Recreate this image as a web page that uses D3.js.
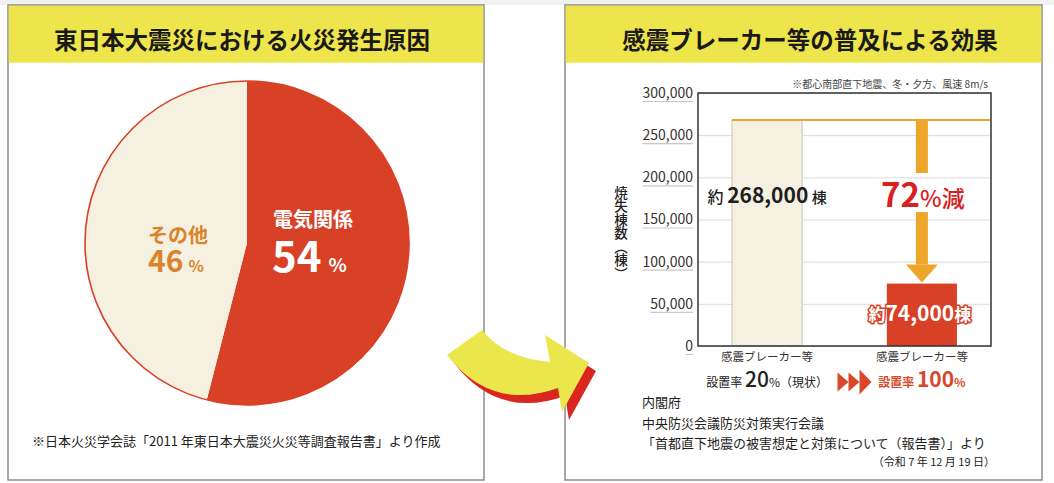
<!DOCTYPE html>
<html lang="ja">
<head>
<meta charset="utf-8">
<script src="https://cdn.jsdelivr.net/npm/d3@7"></script>
<style>
  html, body { margin: 0; padding: 0; background: #fff; }
  svg { display: block; font-family: "Noto Sans CJK JP", "Noto Sans", sans-serif; }
</style>
</head>
<body>
<div id="chart"></div>
<script>
// data
const pieLabels = ["電気関係", "その他"];
const pieValues = [54, 46];
const barKeys = ["current", "full"];
const barLabels = ["感震ブレーカー等", "感震ブレーカー等"];
const barValues = [268000, 74000];
const rateValues = [20, 100];
const rateNotes = ["（現状）", ""];
const yTicks = [0, 50000, 100000, 150000, 200000, 250000, 300000];
const reductionPct = 72;

const W = 1054, H = 483;
const red = "#d94126", cream = "#f6f0e1", yellow = "#ede54b";
const orange = "#eea62a", textRed = "#d8201e", other = "#d9842c";

const svg = d3.select("#chart").append("svg")
  .attr("width", W)
  .attr("height", H);

svg.append("rect").attr("x", 0).attr("y", 0).attr("width", W).attr("height", 5).attr("fill", "#f1f1f1");

// panels with yellow headers
const panels = [
  { x: 8, y: 5, w: 476, h: 475, title: "東日本大震災における火災発生原因", tx: 242 },
  { x: 565, y: 5, w: 477, h: 475, title: "感震ブレーカー等の普及による効果", tx: 810 }
];
panels.forEach(function (p) {
  svg.append("rect")
    .attr("x", p.x).attr("y", p.y).attr("width", p.w).attr("height", p.h)
    .attr("fill", "#fff").attr("stroke", "#8c8c8c").attr("stroke-width", 1.5);
  svg.append("rect")
    .attr("x", p.x + 0.75).attr("y", p.y + 0.75).attr("width", p.w - 1.5).attr("height", 57)
    .attr("fill", yellow);
  svg.append("text")
    .attr("x", p.tx).attr("y", 49)
    .attr("text-anchor", "middle")
    .attr("font-size", 23.5).attr("font-weight", 700).attr("fill", "#1a1a1a")
    .text(p.title);
});

// ---- pie ----
const cx = 247, cy = 243, r = 162;
const pie = d3.pie().sort(null).value(function (d) { return d; });
const arc = d3.arc().innerRadius(0).outerRadius(r);
const pg = svg.append("g").attr("transform", "translate(" + cx + "," + cy + ")");
pg.selectAll("path.slice")
  .data(pie(pieValues))
  .enter().append("path")
  .attr("class", "slice")
  .attr("d", arc)
  .attr("fill", function (d, i) { return i === 0 ? red : cream; });
pg.append("circle").attr("r", r).attr("fill", "none").attr("stroke", red).attr("stroke-width", 1.6);

// red slice label (one text, two lines)
const l0 = pg.append("text").attr("fill", "#fff").attr("font-weight", 700);
l0.append("tspan").attr("x", 26).attr("y", -16).attr("font-size", 20).text(pieLabels[0]);
l0.append("tspan").attr("x", 25).attr("y", 29).attr("font-size", 42).text(pieValues[0]);
l0.append("tspan").attr("font-size", 19).attr("dx", 7).text("%");

// other slice label
const l1 = pg.append("text").attr("fill", other).attr("font-weight", 700);
l1.append("tspan").attr("x", -99).attr("y", 0).attr("font-size", 20).text(pieLabels[1]);
l1.append("tspan").attr("x", -99).attr("y", 29).attr("font-size", 30).text(pieValues[1]);
l1.append("tspan").attr("font-size", 16).attr("dx", 5).text("%");

svg.append("text")
  .attr("x", 32).attr("y", 446)
  .attr("font-size", 13).attr("fill", "#222")
  .text("※日本火災学会誌「2011 年東日本大震災火災等調査報告書」より作成");

// ---- curved arrow between panels ----
const arrowPath = "M447,355 L482,330 Q504,358 550,362 L545,335 L589,363 L562,412 L558,388 Q491,412 447,355 Z";
svg.append("path").attr("d", arrowPath).attr("fill", "#d9261f").attr("transform", "translate(7,8)");
svg.append("path").attr("d", arrowPath).attr("fill", "#ece64d");

// ---- bar chart ----
const plot = { left: 698, right: 991, top: 93, bottom: 346 };
const x = d3.scaleBand()
  .domain(barKeys)
  .range([plot.left, plot.right])
  .paddingInner(0.547)
  .paddingOuter(0.22);
const y = d3.scaleLinear()
  .domain([0, 300000])
  .range([plot.bottom, plot.top]);

// gridlines
svg.append("g")
  .attr("transform", "translate(" + plot.left + ",0)")
  .call(d3.axisLeft(y).tickValues(yTicks).tickSize(-(plot.right - plot.left)).tickFormat(""))
  .call(function (g) { g.select(".domain").remove(); })
  .selectAll("line").attr("stroke", "#dcdcdc").attr("stroke-width", 1);

// bars
svg.selectAll("rect.bar")
  .data(barValues)
  .enter().append("rect")
  .attr("class", "bar")
  .attr("x", function (d, i) { return x(barKeys[i]); })
  .attr("y", function (d) { return y(d); })
  .attr("width", x.bandwidth())
  .attr("height", function (d) { return plot.bottom - y(d); })
  .attr("fill", function (d, i) { return i === 0 ? cream : red; })
  .attr("stroke", function (d, i) { return i === 0 ? "#d9d6cc" : "none"; })
  .attr("stroke-width", 1.5);

// plot frame
svg.append("rect")
  .attr("x", plot.left).attr("y", plot.top)
  .attr("width", plot.right - plot.left).attr("height", plot.bottom - plot.top)
  .attr("fill", "none").attr("stroke", "#333").attr("stroke-width", 1.5);

// orange reference line at the current value
svg.append("line")
  .attr("x1", x(barKeys[0])).attr("x2", plot.right - 0.75)
  .attr("y1", y(barValues[0])).attr("y2", y(barValues[0]))
  .attr("stroke", orange).attr("stroke-width", 2);

// y axis labels with underline
const yAxis = svg.append("g")
  .attr("transform", "translate(" + (plot.left - 5) + ",0)")
  .call(d3.axisLeft(y).tickValues(yTicks).tickSize(0).tickPadding(0).tickFormat(d3.format(",")));
yAxis.select(".domain").remove();
yAxis.selectAll("text")
  .attr("font-family", "'Noto Sans CJK JP', sans-serif")
  .attr("font-size", 14).attr("fill", "#333");
yAxis.selectAll(".tick").each(function () {
  const t = d3.select(this);
  const w = t.select("text").node().getComputedTextLength();
  t.append("line")
    .attr("x1", -w).attr("x2", 0).attr("y1", 8).attr("y2", 8)
    .attr("stroke", "#c8c8c8").attr("stroke-width", 1.2);
});

// y title (vertical writing)
svg.append("text")
  .attr("x", 621).attr("y", 186)
  .attr("font-size", 13.5).attr("font-weight", 500).attr("fill", "#222")
  .style("writing-mode", "vertical-rl")
  .style("text-orientation", "upright")
  .text("焼失棟数（棟）");

// x axis labels
const xAxis = svg.append("g")
  .attr("transform", "translate(0," + plot.bottom + ")")
  .call(d3.axisBottom(x).tickSize(0).tickPadding(7).tickFormat(function (d, i) { return barLabels[i]; }));
xAxis.select(".domain").remove();
xAxis.selectAll("text")
  .attr("font-family", "'Noto Sans CJK JP', sans-serif")
  .attr("font-size", 11.5).attr("fill", "#333");

// rate labels under the axis
const rateColors = ["#222", "#d9482b"];
rateValues.forEach(function (v, i) {
  const t = svg.append("text")
    .attr("x", x(barKeys[i]) + x.bandwidth() / 2)
    .attr("y", 387)
    .attr("text-anchor", "middle")
    .attr("fill", rateColors[i])
    .attr("font-weight", i === 1 ? 700 : 400);
  t.append("tspan").attr("font-size", 12).text("設置率 ");
  t.append("tspan").attr("font-size", 21).attr("font-weight", i === 1 ? 700 : 500).text(v);
  t.append("tspan").attr("font-size", 12).text("%");
  if (rateNotes[i]) t.append("tspan").attr("font-size", 12).text(rateNotes[i]);
});

// triple arrow between rates
const triX = (x(barKeys[0]) + x(barKeys[1]) + x.bandwidth()) / 2 + 10;
const tris = [[-17, 11, 19], [-6, 11, 19], [5, 12, 25]];
tris.forEach(function (t) {
  const x0 = triX + t[0];
  svg.append("path")
    .attr("d", "M" + x0 + "," + (382 - t[2] / 2) + " L" + (x0 + t[1]) + ",382 L" + x0 + "," + (382 + t[2] / 2) + " Z")
    .attr("fill", "#d9482b");
});

// value label on the first bar
const cx0 = x(barKeys[0]) + x.bandwidth() / 2;
const lab0 = svg.append("text")
  .attr("x", cx0).attr("y", y(barValues[0]) + 83)
  .attr("text-anchor", "middle").attr("fill", "#1e1e1e");
lab0.append("tspan").attr("font-size", 16).attr("font-weight", 500).text("約 ");
lab0.append("tspan").attr("font-size", 21).attr("font-weight", 700).text(d3.format(",")(barValues[0]));
lab0.append("tspan").attr("font-size", 15).attr("font-weight", 500).text(" 棟");

// reduction arrow
const cx1 = x(barKeys[1]) + x.bandwidth() / 2;
const headTop = y(barValues[1]) - 19;
svg.append("rect")
  .attr("x", cx1 - 6).attr("width", 12)
  .attr("y", y(barValues[0]) + 1).attr("height", 52)
  .attr("fill", orange);
svg.append("rect")
  .attr("x", cx1 - 6).attr("width", 12)
  .attr("y", 212).attr("height", headTop - 212)
  .attr("fill", orange);
svg.append("path")
  .attr("d", "M" + (cx1 - 16) + "," + headTop + " L" + (cx1 + 16) + "," + headTop + " L" + cx1 + "," + (y(barValues[1]) - 1) + " Z")
  .attr("fill", orange);

const red72 = svg.append("text")
  .attr("x", cx1 + 1).attr("y", 207)
  .attr("text-anchor", "middle").attr("fill", textRed);
red72.append("tspan").attr("font-size", 33).attr("font-weight", 700).text(reductionPct);
red72.append("tspan").attr("font-size", 23).attr("font-weight", 500).text("%減");

// value label on the second bar
const lab1 = svg.append("text")
  .attr("x", cx1 - 2).attr("y", y(barValues[1]) + 37)
  .attr("text-anchor", "middle")
  .attr("fill", "#fff").attr("stroke", red).attr("stroke-width", 3)
  .attr("stroke-linejoin", "round")
  .style("paint-order", "stroke")
  .attr("font-weight", 700);
lab1.append("tspan").attr("font-size", 17).text("約");
lab1.append("tspan").attr("font-size", 21).text(d3.format(",")(barValues[1]));
lab1.append("tspan").attr("font-size", 17).text("棟");

// notes
svg.append("text")
  .attr("x", 988).attr("y", 88)
  .attr("text-anchor", "end")
  .attr("font-size", 10).attr("fill", "#444")
  .text("※都心南部直下地震、冬・夕方、風速 8m/s");

const sources = ["内閣府", "中央防災会議防災対策実行会議", "「首都直下地震の被害想定と対策について（報告書）」より"];
svg.selectAll("text.src")
  .data(sources)
  .enter().append("text")
  .attr("class", "src")
  .attr("x", 642)
  .attr("y", function (d, i) { return 407 + i * 20.5; })
  .attr("font-size", 13).attr("fill", "#1e1e1e")
  .text(function (d) { return d; });
svg.append("text")
  .attr("x", 995).attr("y", 466)
  .attr("text-anchor", "end")
  .attr("font-size", 11).attr("fill", "#1e1e1e")
  .text("（令和 7 年 12 月 19 日）");
</script>
</body>
</html>
